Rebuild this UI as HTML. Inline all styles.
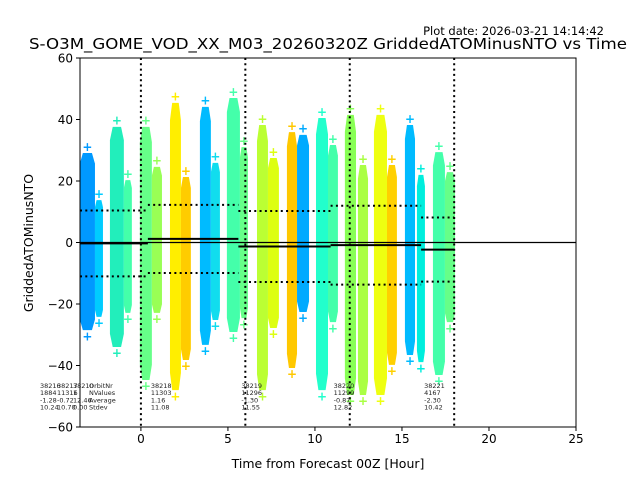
<!DOCTYPE html>
<html><head><meta charset="utf-8"><style>
body{margin:0;background:#fff}
svg{display:block;font-family:"DejaVu Sans","Liberation Sans",sans-serif}
</style></head><body>
<svg id="chart" width="640" height="480" xmlns="http://www.w3.org/2000/svg">
<text x="604" y="35" font-size="11.5" text-anchor="end">Plot date: 2026-03-21 14:14:42</text>
<text x="328" y="49" font-size="15.5" text-anchor="middle" textLength="598" lengthAdjust="spacingAndGlyphs">S-O3M_GOME_VOD_XX_M03_20260320Z GriddedATOMinusNTO vs Time</text>
<text transform="translate(33,243) rotate(-90)" font-size="12.5" text-anchor="middle">GriddedATOMinusNTO</text>
<text x="328" y="468" font-size="12.5" text-anchor="middle">Time from Forecast 00Z [Hour]</text>
<g id="marks"></g>
<g id="axes"></g>
</svg>
<script>
const xStart=[-3.51,-2.64,-1.78,-0.98,-0.06,0.63,1.67,2.30,3.39,4.02,4.94,5.69,6.67,7.30,8.39,8.97,10.06,10.75,11.72,12.47,13.39,14.14,15.17,15.86,16.78,17.47];
const xEnd=[-2.64,-2.18,-0.98,-0.52,0.63,1.21,2.30,2.87,4.02,4.54,5.69,6.15,7.30,7.93,8.97,9.66,10.75,11.32,12.36,13.05,14.14,14.71,15.75,16.32,17.47,18.05];
const yMax=[29.1,13.8,37.6,20.3,37.6,24.6,45.4,21.3,44.1,25.9,47,31,38.2,27.5,35.9,35,40.5,31.7,41.5,25.2,41.5,25.2,38.2,22,29.4,22.9];
const yMin=[-28.5,-24.2,-34,-22.9,-44.7,-22.9,-48,-38.2,-33.3,-25.2,-29.1,-24.6,-48,-27.8,-40.8,-22.6,-48,-25.9,-49.6,-49.6,-49.6,-39.8,-36.6,-38.9,-43.1,-25.9];
const colors=["#0099ff","#00ccff","#22eebb","#44ffaa","#66ff88","#99ff55","#ffee00","#ffcc00","#00bbff","#11ddee","#44ffaa","#66ff88","#bbff33","#ddff11","#ffc800","#00aaff","#22ffcc","#44ffaa","#88ff55","#aaff44","#eeff11","#ffd000","#00bbff","#00eedd","#44ffaa","#66ff88"];
const orbitNr=["38218","38219","38220","38221"];
const orbitStart=[-3.5,0.4,5.6,10.9,16.1];
const orbitEnd=[0.4,5.6,10.9,16.1,18];
const orbitMean=[-0.3,1.16,-1.30,-0.87,-2.30];
const orbitStd=[10.7,11.08,11.55,12.82,10.42];
const nValues=["11303","11296","11299","4167"];
const avgLabels=["1.16","-1.30","-0.87","-2.30"];
const stdLabels=["11.08","11.55","12.82","10.42"];
const vLines=[0,6,12,18];
const xTicks=[0,5,10,15,20,25];
const yTicks=[60,40,20,0,-20,-40,-60];

const L=80,R=576,T=58,B=427,X0=-3.5,X1=25,Y0=-60,Y1=60;
const sx=v=>L+(v-X0)/(X1-X0)*(R-L);
const sy=v=>B-(v-Y0)/(Y1-Y0)*(B-T);
const NS="http://www.w3.org/2000/svg";
const marks=document.getElementById('marks'),axes=document.getElementById('axes');
function mk(tag,at,parent){const e=document.createElementNS(NS,tag);for(const k in at)e.setAttribute(k,at[k]);parent.appendChild(e);return e;}

for(let i=0;i<xStart.length;i++){
  const x0=sx(xStart[i]),x1=sx(xEnd[i]),t=sy(yMax[i]),b=sy(yMin[i]),w=x1-x0,h=b-t;
  const p=mk('polygon',{points:`${x0+w*0.2},${t} ${x1-w*0.2},${t} ${x1},${t+h*0.06} ${x1},${b-h*0.06} ${x1-w*0.2},${b} ${x0+w*0.2},${b} ${x0},${b-h*0.06} ${x0},${t+h*0.06}`,fill:colors[i]},marks);
  
  
  for(const yy of [yMax[i]+2,yMin[i]-2]){
    const c=mk('text',{x:(x0+x1)/2,y:sy(yy)+4,'font-size':'12','font-weight':'bold','text-anchor':'middle',fill:colors[i]},marks);
    c.textContent='+';
    
    
  }
}
const z=mk('line',{x1:L,x2:R,y1:sy(0),y2:sy(0),stroke:'#000','stroke-width':1.2},marks);


for(let i=0;i<orbitStart.length;i++){
  const a=sx(orbitStart[i]),b=sx(orbitEnd[i]);
  const m=mk('line',{x1:a,x2:b,y1:sy(orbitMean[i]),y2:sy(orbitMean[i]),stroke:'#000','stroke-width':2},marks);
  
  
  for(const s of [1,-1]){
    const d=mk('line',{x1:a,x2:b,y1:sy(orbitMean[i]+s*orbitStd[i]),y2:sy(orbitMean[i]+s*orbitStd[i]),stroke:'#000','stroke-width':2,'stroke-dasharray':'2,3.3'},marks);
    
    
  }
}
for(const v of vLines){
  const d=mk('line',{x1:sx(v),x2:sx(v),y1:T,y2:B,stroke:'#000','stroke-width':2,'stroke-dasharray':'2,3.3'},marks);
  
  
}
function block(x,lines,name){
  const g=mk('text',{x:x,y:388,'font-size':'6.5',fill:'#222'},marks);
  
  
  lines.forEach((s,j)=>{const t=mk('tspan',{x:x,y:388+j*7.2},g);t.textContent=s;});
}
block(40,["38216","1884","-1.28","10.24"],'orbit-stats-38216');
block(57,["38217","11316","-0.72","10.70"],'orbit-stats-38217');
block(73,["38210","1","12.46","0.00"],'orbit-stats-38210');
block(89,["OrbitNr","NValues","Average","Stdev"],'stats-legend');
for(let i=0;i<orbitNr.length;i++) block(sx(orbitStart[i+1])+3,[orbitNr[i],nValues[i],avgLabels[i],stdLabels[i]],'orbit-stats-'+orbitNr[i]);
const fr=mk('rect',{x:L,y:T,width:R-L,height:B-T,fill:'none',stroke:'#000','stroke-width':1},axes);


for(const v of xTicks){
  const l=mk('line',{x1:sx(v),x2:sx(v),y1:B,y2:B+4,stroke:'#000'},axes);
  
  
  const t=mk('text',{x:sx(v),y:B+16,'font-size':'12','text-anchor':'middle'},axes);
  t.textContent=String(v);
  
  
}
for(const v of yTicks){
  const l=mk('line',{x1:L-4,x2:L,y1:sy(v),y2:sy(v),stroke:'#000'},axes);
  
  
  const t=mk('text',{x:L-7,y:sy(v)+4.5,'font-size':'12','text-anchor':'end'},axes);
  t.textContent=(v<0?'\u2212'+(-v):String(v));
  
  
}
</script>
</body></html>
